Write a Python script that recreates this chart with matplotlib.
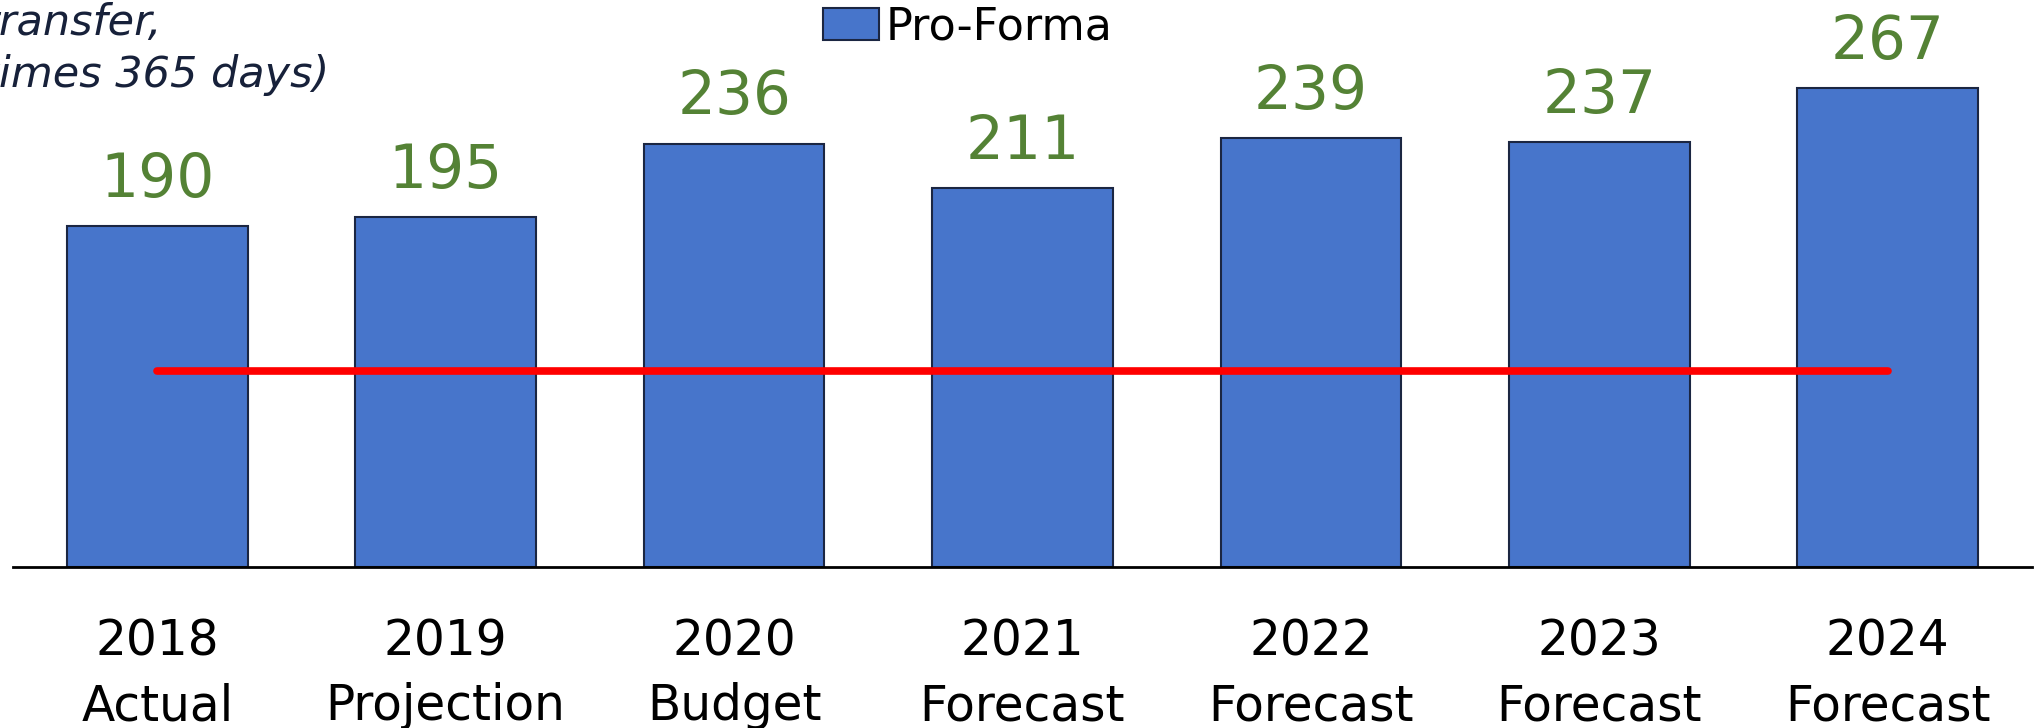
import matplotlib
matplotlib.use("Agg")
import matplotlib.pyplot as plt
from matplotlib.patches import Patch

# data
years = ["2018", "2019", "2020", "2021", "2022", "2023", "2024"]
stages = ["Actual", "Projection", "Budget", "Forecast", "Forecast", "Forecast", "Forecast"]
pro_forma = [190, 195, 236, 211, 239, 237, 267]
target = 109

labels = [y + "\n" + s for y, s in zip(years, stages)]
x = list(range(len(years)))

plt.rcParams['font.family'] = ['DejaVu Sans']

fig = plt.figure(figsize=(20.34, 7.28), dpi=100)
ax = fig.add_axes([13 / 2034, 161 / 728, 2019 / 2034, 567 / 728])

ax.bar(x, pro_forma, width=0.627, color="#4775CB", edgecolor="#1b2642", linewidth=1.5, zorder=2)
ax.plot([x[0], x[-1]], [target, target], color="#ff0000", linewidth=5.5, solid_capstyle="round", zorder=3)

for xi, v in zip(x, pro_forma):
    ax.text(xi, v + 9, str(v), ha="center", va="bottom", fontsize=43, color="#548235")

ax.set_xlim(-0.5, 6.5)
ax.set_ylim(0, 316)
ax.set_xticks(x)
ax.set_xticklabels(labels, fontsize=35, linespacing=1.45)
ax.tick_params(axis="x", length=0, pad=36)
ax.set_yticks([])
for s in ["top", "left", "right"]:
    ax.spines[s].set_visible(False)
ax.spines["bottom"].set_linewidth(2)
ax.spines["bottom"].set_color("black")

handle = Patch(facecolor="#4775CB", edgecolor="#1b2642", linewidth=1.5)
fig.legend([handle], ["Pro-Forma"], loc="center", bbox_to_anchor=(968 / 2034, 1 - 27 / 728),
           frameon=False, fontsize=32, handlelength=1.25, handleheight=0.7, handletextpad=0.15)

fig.text(-18 / 2034, 1 - 2 / 728, "transfer,\ntimes 365 days)", ha="left", va="top",
         fontsize=31, style="italic", color="#17213a", linespacing=1.3)

fig.savefig("out.png", dpi=100)
